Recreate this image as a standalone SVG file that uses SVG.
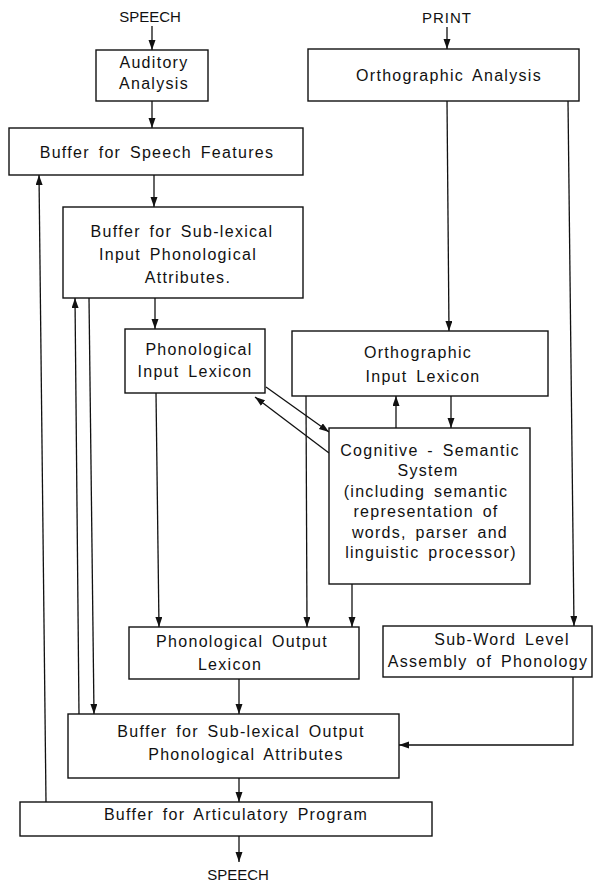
<svg xmlns="http://www.w3.org/2000/svg" width="595" height="884" viewBox="0 0 595 884">
<style>
.box{fill:#fff;stroke:#111;stroke-width:1.4}
.t{font-family:"Liberation Sans",Arial,Helvetica,sans-serif;font-size:16px;fill:#111;text-anchor:middle;letter-spacing:1.3px;word-spacing:3px}
.io{font-family:"Liberation Sans",Arial,Helvetica,sans-serif;font-size:15px;fill:#111;text-anchor:middle}
.c{fill:none;stroke:#111;stroke-width:1.3}
</style>
<defs>
<marker id="ah" markerUnits="userSpaceOnUse" markerWidth="11" markerHeight="8" refX="10" refY="3.5" orient="auto">
<path d="M0,0 L10,3.5 L0,7 z" fill="#111"/>
</marker>
</defs>
<rect width="595" height="884" fill="#fff"/>
<g id="connectors">
<line class="c" x1="152" y1="26" x2="152" y2="50" marker-end="url(#ah)"/>
<line class="c" x1="447" y1="27" x2="447" y2="49" marker-end="url(#ah)"/>
<line class="c" x1="152" y1="101" x2="152" y2="128" marker-end="url(#ah)"/>
<line class="c" x1="154" y1="175" x2="154" y2="207" marker-end="url(#ah)"/>
<line class="c" x1="447" y1="101" x2="449" y2="331" marker-end="url(#ah)"/>
<line class="c" x1="568" y1="101" x2="574" y2="626" marker-end="url(#ah)"/>
<line class="c" x1="155" y1="298" x2="155" y2="329" marker-end="url(#ah)"/>
<line class="c" x1="156" y1="393" x2="159" y2="627" marker-end="url(#ah)"/>
<line class="c" x1="306" y1="396" x2="307" y2="627" marker-end="url(#ah)"/>
<line class="c" x1="396" y1="428" x2="396" y2="396" marker-end="url(#ah)"/>
<line class="c" x1="451" y1="396" x2="451" y2="428" marker-end="url(#ah)"/>
<line class="c" x1="266" y1="387" x2="329" y2="432" marker-end="url(#ah)"/>
<line class="c" x1="329" y1="453" x2="255" y2="397" marker-end="url(#ah)"/>
<line class="c" x1="352" y1="584" x2="352" y2="627" marker-end="url(#ah)"/>
<line class="c" x1="239" y1="679" x2="239" y2="714" marker-end="url(#ah)"/>
<line class="c" x1="89" y1="298" x2="94" y2="714" marker-end="url(#ah)"/>
<line class="c" x1="79" y1="714" x2="75" y2="298" marker-end="url(#ah)"/>
<polyline class="c" points="573,677 573,745 399,745" marker-end="url(#ah)"/>
<line class="c" x1="239" y1="778" x2="239" y2="802" marker-end="url(#ah)"/>
<line class="c" x1="46" y1="802" x2="39" y2="175" marker-end="url(#ah)"/>
<line class="c" x1="239" y1="836" x2="239" y2="862" marker-end="url(#ah)"/>
</g>
<g id="speech-in"><text class="io" x="150" y="22">SPEECH</text></g>
<g id="print-in"><text class="io" x="447" y="23" style="letter-spacing:1px">PRINT</text></g>
<g id="auditory-analysis">
<rect class="box" x="96" y="50" width="112" height="51"/>
<text class="t" x="154" y="68">Auditory</text>
<text class="t" x="154" y="89">Analysis</text>
</g>
<g id="orthographic-analysis">
<rect class="box" x="308" y="49" width="271" height="52"/>
<text class="t" x="449" y="81">Orthographic Analysis</text>
</g>
<g id="buffer-speech-features">
<rect class="box" x="9" y="128" width="294" height="47"/>
<text class="t" x="157" y="158">Buffer for Speech Features</text>
</g>
<g id="buffer-sublexical-input">
<rect class="box" x="63" y="207" width="240" height="91"/>
<text class="t" x="182" y="237">Buffer for Sub-lexical</text>
<text class="t" x="178" y="260">Input Phonological</text>
<text class="t" x="188" y="283">Attributes.</text>
</g>
<g id="phonological-input-lexicon">
<rect class="box" x="125" y="329" width="140" height="64"/>
<text class="t" x="199" y="355">Phonological</text>
<text class="t" x="195" y="377">Input Lexicon</text>
</g>
<g id="orthographic-input-lexicon">
<rect class="box" x="292" y="331" width="256" height="65"/>
<text class="t" x="418" y="358">Orthographic</text>
<text class="t" x="423" y="382">Input Lexicon</text>
</g>
<g id="cognitive-semantic-system">
<rect class="box" x="329" y="428" width="201" height="156"/>
<text class="t" x="430" y="456">Cognitive - Semantic</text>
<text class="t" x="428" y="476">System</text>
<text class="t" x="426" y="497">(including semantic</text>
<text class="t" x="426" y="517">representation of</text>
<text class="t" x="430" y="538">words, parser and</text>
<text class="t" x="431" y="558">linguistic processor)</text>
</g>
<g id="phonological-output-lexicon">
<rect class="box" x="129" y="627" width="230" height="52"/>
<text class="t" x="242" y="647">Phonological Output</text>
<text class="t" x="230" y="670">Lexicon</text>
</g>
<g id="sub-word-assembly">
<rect class="box" x="383" y="626" width="209" height="51"/>
<text class="t" x="502" y="645">Sub-Word Level</text>
<text class="t" x="488" y="667">Assembly of Phonology</text>
</g>
<g id="buffer-sublexical-output">
<rect class="box" x="68" y="714" width="331" height="64"/>
<text class="t" x="241" y="737">Buffer for Sub-lexical Output</text>
<text class="t" x="246" y="760">Phonological Attributes</text>
</g>
<g id="buffer-articulatory">
<rect class="box" x="20" y="802" width="412" height="34"/>
<text class="t" x="236" y="820">Buffer for Articulatory Program</text>
</g>
<g id="speech-out"><text class="io" x="238" y="880">SPEECH</text></g>
</svg>
